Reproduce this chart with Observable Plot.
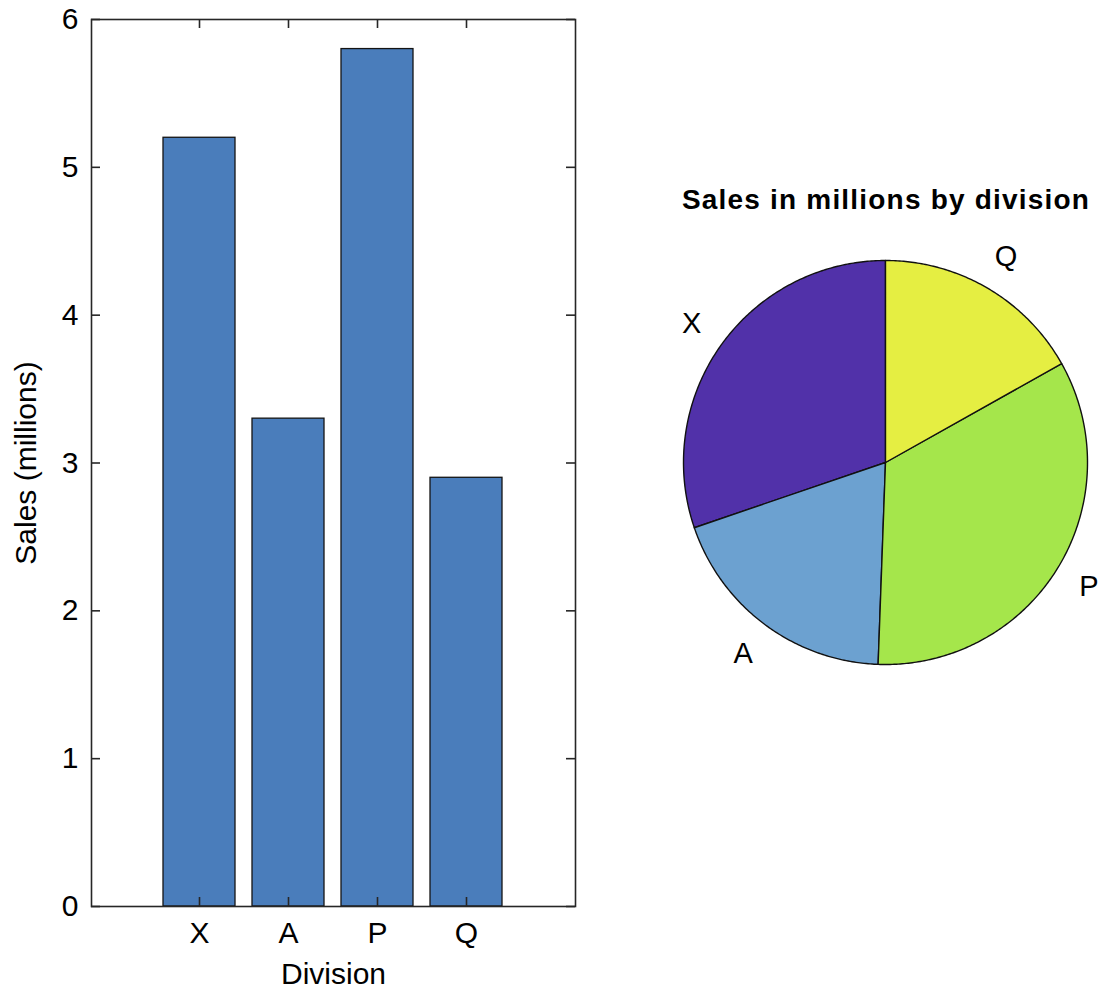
<!DOCTYPE html>
<html><head><meta charset="utf-8">
<script src="https://cdn.jsdelivr.net/npm/d3@7"></script>
<script src="https://cdn.jsdelivr.net/npm/@observablehq/plot@0.6"></script>
<style>
body{margin:0;background:#fff;font-family:"Liberation Sans",Arial,sans-serif;}
#wrap{position:relative;width:1105px;height:991px;overflow:hidden}
#bar{position:absolute;left:0;top:0}
#pie{position:absolute;left:640px;top:212px}
#title{position:absolute;left:640px;width:492px;top:184px;line-height:32px;text-align:center;font-weight:bold;font-size:28px;letter-spacing:1.2px;color:#000;white-space:nowrap}
</style></head><body>
<div id="wrap"><div id="bar"></div><div id="title"></div><div id="pie"></div></div>
<script>
// ---- data ----
const divisions = ["X", "A", "P", "Q"];
const sales = [5.2, 3.3, 5.8, 2.9];
const yTicks = [0, 1, 2, 3, 4, 5, 6];
const pieColors = ["#5131a9", "#6ca1d0", "#a5e64b", "#e5ee42"];
const barColor = "#4a7dbb";
const pieTitle = "Sales in millions by division";
const yLabel = "Sales (millions)";
const xLabel = "Division";

const font = '"Liberation Sans", Arial, sans-serif';
const barData = divisions.map((d, i) => ({division: d, sales: sales[i]}));

// ---- bar chart ----
const W = 600, H = 991, mL = 91, mR = 25, mT = 19, mB = 85;
const innerW = W - mL - mR, innerH = H - mT - mB;
const bar = Plot.plot({
  width: W, height: H,
  marginLeft: mL, marginRight: mR, marginTop: mT, marginBottom: mB,
  style: {fontFamily: font, fontSize: "30px", color: "#000", background: "transparent", overflow: "visible"},
  x: {domain: divisions, paddingInner: 0.19, paddingOuter: 0.8, label: null},
  y: {domain: [0, 6], label: null},
  marks: [
    Plot.barY(barData, {x: "division", y: "sales", fill: barColor, stroke: "#141414", strokeWidth: 1.3}),
    Plot.frame({stroke: "#262626", strokeWidth: 1.6}),
    // inward ticks left/right
    Plot.tickY(yTicks, {y: d => d, stroke: "#262626", strokeWidth: 1.6, insetRight: innerW - 9}),
    Plot.tickY(yTicks, {y: d => d, stroke: "#262626", strokeWidth: 1.6, insetLeft: innerW - 9}),
    // inward ticks top/bottom
    Plot.tickX(divisions, {x: d => d, stroke: "#262626", strokeWidth: 1.6, insetBottom: innerH - 9}),
    Plot.tickX(divisions, {x: d => d, stroke: "#262626", strokeWidth: 1.6, insetTop: innerH - 9}),
    Plot.axisY(yTicks, {anchor: "left", tickSize: 0, tickPadding: 13, fontSize: 30, tickFormat: d => String(d), label: yLabel, labelAnchor: "center", labelOffset: 77, labelArrow: "none"}),
    Plot.axisX({anchor: "bottom", tickSize: 0, tickPadding: 15, fontSize: 30, label: xLabel, labelAnchor: "center", labelOffset: 77, labelArrow: "none"})
  ]
});
document.getElementById("bar").appendChild(bar);

// ---- pie chart ----
document.getElementById("title").textContent = pieTitle;
const R = 202, PW = 465, PH = 500, cx = 245, cy = 250; // pixels inside pie svg
const arcs = d3.pie().sort(null).startAngle(0).endAngle(-2 * Math.PI)(sales);
const slices = arcs.map((a) => {
  const n = Math.max(8, Math.ceil(Math.abs(a.endAngle - a.startAngle) / 0.01));
  const pts = [{x: 0, y: 0}];
  for (let k = 0; k <= n; k++) {
    const t = a.startAngle + (a.endAngle - a.startAngle) * k / n;
    pts.push({x: Math.sin(t), y: Math.cos(t)});
  }
  pts.push({x: 0, y: 0});
  return pts;
});
const labels = arcs.map((a, i) => {
  const m = (a.startAngle + a.endAngle) / 2;
  return {name: divisions[i], x: 1.18 * Math.sin(m), y: 1.18 * Math.cos(m)};
});
const pie = Plot.plot({
  width: PW, height: PH, margin: 0,
  style: {fontFamily: font, fontSize: "29px", color: "#000", background: "transparent", overflow: "visible"},
  x: {domain: [-cx / R, (PW - cx) / R], axis: null},
  y: {domain: [-(PH - cy) / R, cy / R], axis: null},
  marks: [
    ...slices.map((pts, i) => Plot.line(pts, {x: "x", y: "y", fill: pieColors[i], stroke: "#111", strokeWidth: 1.4, curve: "linear"})),
    Plot.text(labels, {x: "x", y: "y", text: "name", textAnchor: "middle", fontSize: 29, fill: "#000"})
  ]
});
document.getElementById("pie").appendChild(pie);
</script>
</body></html>
